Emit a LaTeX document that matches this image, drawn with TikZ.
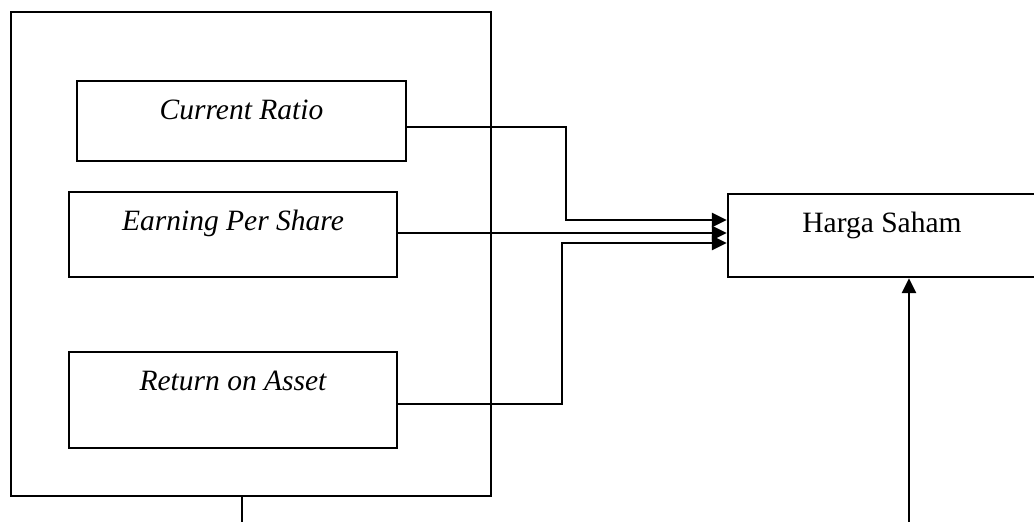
\documentclass[tikz,border=0pt]{standalone}
\usepackage{fontspec}
\setmainfont{Liberation Serif}
\usetikzlibrary{arrows.meta}
\begin{document}
\begin{tikzpicture}[x=1pt,y=-1pt,
  box/.style={draw,rectangle,inner sep=0pt,line width=2.4pt},
  lbl/.style={anchor=base,inner sep=0pt,font=\fontsize{29.5}{34}\selectfont},
  conn/.style={line width=2.6pt,-{Triangle[length=15pt,width=14pt]}},
  thin/.style={line width=1.4pt}]
\useasboundingbox (0,0) rectangle (1034,522);
\clip (0,0) rectangle (1034,522);
\node[draw,rectangle,inner sep=0pt,line width=1.9pt,minimum width=480pt,minimum height=484pt] (outer) at (251,254) {};
\node[box,minimum width=329pt,minimum height=80pt] (cr) at (241.5,121) {};
\node[box,minimum width=328pt,minimum height=85pt] (eps) at (233,234.5) {};
\node[box,minimum width=328pt,minimum height=96pt] (roa) at (233,400) {};
\node[box,minimum width=322pt,minimum height=83pt] (harga) at (889,235.5) {};
\node[lbl] (tcr) at (241.5,119) {\itshape Current Ratio};
\node[lbl] (teps) at (233,230) {\itshape Earning Per Share};
\node[lbl] (troa) at (233,390.5) {\itshape Return on Asset};
\node[lbl] (tharga) at (882,232) {Harga Saham};
\coordinate (bot) at (242,524);
\coordinate (up) at (909,524);
\draw[thin] (outer.south -| bot) -- (bot);
\draw[conn] (up) -- (harga.south -| up);
\draw[conn] (cr.east |- 0,127) -- (566,127) -- (566,220) -- (harga.west |- 0,220);
\draw[conn] (eps.east |- 0,233) -- (harga.west |- 0,233);
\draw[conn] (roa.east |- 0,404) -- (562,404) -- (562,243) -- (harga.west |- 0,243);
\end{tikzpicture}
\end{document}
